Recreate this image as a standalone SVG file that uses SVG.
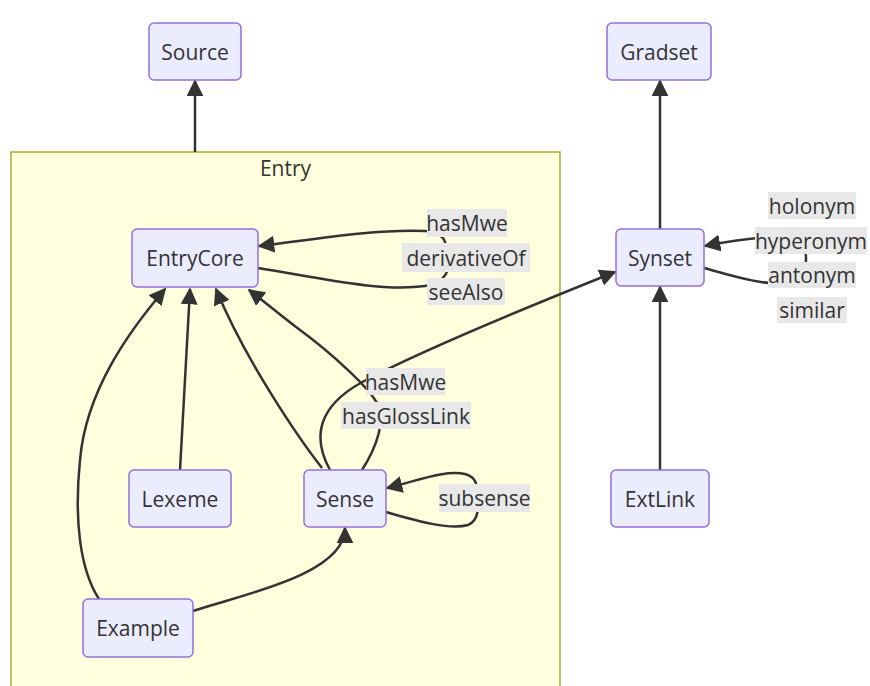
<svg xmlns="http://www.w3.org/2000/svg" width="870" height="686" viewBox="0 0 870 686">
<defs>
<marker id="arrow" viewBox="0 0 10 10" refX="9" refY="5" markerWidth="17" markerHeight="17" markerUnits="userSpaceOnUse" orient="auto">
<path d="M0,0 L10,5 L0,10 z" fill="#333333"/>
</marker>
<style>
.node rect{fill:#ECECFF;stroke:#9370DB;stroke-width:1.5}
text{font-family:"Open Sans","DejaVu Sans",sans-serif;font-size:21px;fill:#333333;text-anchor:middle;dominant-baseline:central}
.edge{fill:none;stroke:#333333;stroke-width:2.5}
.arr{marker-end:url(#arrow)}
.lbl rect{fill:#e8e8e8}
</style>
</defs>
<rect x="0" y="0" width="870" height="686" fill="#ffffff"/>
<g id="cluster-Entry">
<rect x="11" y="152" width="549" height="545" fill="#ffffde" stroke="#aaaa33" stroke-width="1.5"/>
<text x="285.5" y="168">Entry</text>
</g>
<g id="connectors">
<path class="edge arr" d="M195,152 L195,81"/>
<path class="edge arr" d="M660,229 L660,81"/>
<path class="edge arr" d="M660,470 L660,287"/>
<path class="edge arr" d="M180,470 L190,289"/>
<path class="edge arr" d="M322,468 C300,440 245,360 216,289"/>
<path class="edge arr" d="M99,599 C80,570 74,520 80,460 C86,390 130,330 165,289"/>
<path class="edge arr" d="M193,611 C240,595 345,575 345,528"/>
<path class="edge arr" d="M258,268 C320,278 380,292 425,286 C448,282 450,268 448,257 C446,246 448,232 425,231 C370,229 310,240 259,246"/>
<path class="edge arr" d="M330,470 C308,430 325,400 370,378 C420,352 520,310 615,272"/>
<path class="edge arr" d="M362,470 C378,445 385,420 378,405 C370,388 330,352 300,330 C280,315 265,302 249,290"/>
<path class="edge arr" d="M386,512 C420,522 450,530 468,525 C480,520 478,505 477,498 C476,490 480,478 465,474 C445,470 420,480 387,488"/>
<path class="edge arr" d="M704,268 C730,275 760,285 790,284 C805,283 806,270 806,258 C806,246 800,237 780,237 C760,237 730,241 705,246"/>
</g>
<g id="edge-labels">
<g class="lbl"><rect x="427" y="209" width="80" height="28"/><text x="467" y="223">hasMwe</text></g>
<g class="lbl"><rect x="402" y="243" width="128" height="29"/><text x="466" y="257.5">derivativeOf</text></g>
<g class="lbl"><rect x="427" y="278" width="78" height="27"/><text x="466" y="291.5">seeAlso</text></g>
<g class="lbl"><rect x="366" y="368" width="79" height="27"/><text x="405.5" y="381.5">hasMwe</text></g>
<g class="lbl"><rect x="341" y="402" width="130" height="27"/><text x="406" y="415.5">hasGlossLink</text></g>
<g class="lbl"><rect x="439" y="484" width="91" height="28"/><text x="484.5" y="498">subsense</text></g>
<g class="lbl"><rect x="768" y="192" width="88" height="27"/><text x="812" y="205.5">holonym</text></g>
<g class="lbl"><rect x="755" y="227" width="112" height="27"/><text x="811" y="240.5">hyperonym</text></g>
<g class="lbl"><rect x="768" y="262" width="88" height="26"/><text x="812" y="275">antonym</text></g>
<g class="lbl"><rect x="777" y="297" width="70" height="26"/><text x="812" y="310">similar</text></g>
</g>
<g id="node-Source" class="node"><rect x="149" y="23" width="92" height="57" rx="5"/><text x="195" y="51.5">Source</text></g>
<g id="node-Gradset" class="node"><rect x="607" y="23" width="104" height="57" rx="5"/><text x="659" y="51.5">Gradset</text></g>
<g id="node-EntryCore" class="node"><rect x="132" y="229" width="126" height="58" rx="5"/><text x="195" y="258">EntryCore</text></g>
<g id="node-Synset" class="node"><rect x="616" y="229" width="88" height="57" rx="5"/><text x="660" y="257.5">Synset</text></g>
<g id="node-Lexeme" class="node"><rect x="129" y="470" width="102" height="57" rx="5"/><text x="180" y="498.5">Lexeme</text></g>
<g id="node-Sense" class="node"><rect x="304" y="470" width="82" height="57" rx="5"/><text x="345" y="498.5">Sense</text></g>
<g id="node-ExtLink" class="node"><rect x="611" y="470" width="98" height="57" rx="5"/><text x="660" y="498.5">ExtLink</text></g>
<g id="node-Example" class="node"><rect x="83" y="599" width="110" height="58" rx="5"/><text x="138" y="628">Example</text></g>
</svg>
